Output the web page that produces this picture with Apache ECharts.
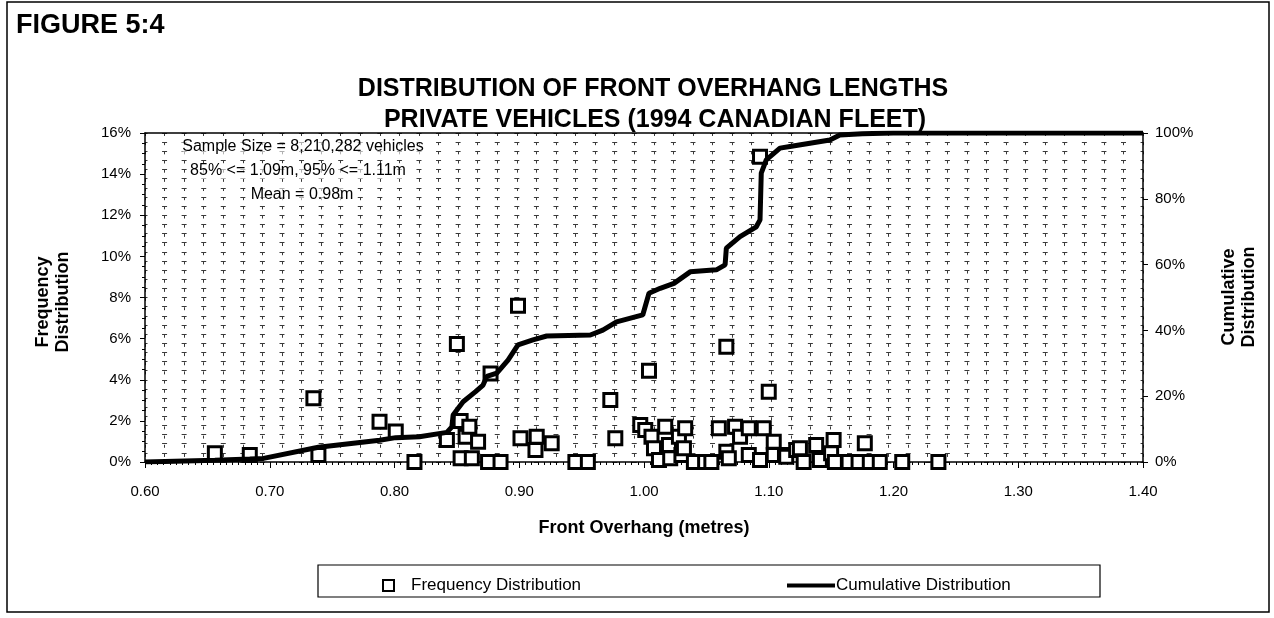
<!doctype html>
<html lang="en">
<head>
    <meta charset="UTF-8">
    <title>Figure 5.4</title>
    <style>
        html, body { margin: 0; padding: 0; background: #fff; }
        #main { width: 1274px; height: 618px; }
    </style>
    <script src="https://cdnjs.cloudflare.com/ajax/libs/echarts/6.0.0/echarts.min.js"></script>
</head>
<body>
    <div id="main"></div>
    <script>
        // frequency points: overhang (m) and share of fleet (%)
        var freqX = [0.656, 0.684, 0.735, 0.739, 0.788, 0.801, 0.816, 0.842, 0.850, 0.853,
            0.853, 0.857, 0.860, 0.862, 0.867, 0.875, 0.877, 0.885, 0.899, 0.901,
            0.913, 0.914, 0.926, 0.945, 0.955, 0.973, 0.977, 0.997, 1.001, 1.004,
            1.006, 1.008, 1.012, 1.017, 1.020, 1.021, 1.028, 1.030, 1.032, 1.033,
            1.040, 1.049, 1.054, 1.060, 1.066, 1.066, 1.068, 1.073, 1.077, 1.084,
            1.084, 1.093, 1.093, 1.096, 1.100, 1.104, 1.104, 1.113, 1.114, 1.122,
            1.125, 1.128, 1.138, 1.141, 1.150, 1.152, 1.153, 1.164, 1.172, 1.177,
            1.181, 1.189, 1.207, 1.236];
        var freqY = [0.42, 0.34, 3.10, 0.34, 1.96, 1.48, 0.00, 1.07, 5.74, 2.00,
            0.18, 1.23, 1.72, 0.18, 0.99, 0.00, 4.31, 0.00, 7.60, 1.15,
            0.58, 1.23, 0.91, 0.00, 0.00, 3.02, 1.15, 1.80, 1.56, 4.44,
            1.23, 0.67, 0.10, 1.72, 0.83, 0.18, 1.23, 0.34, 0.67, 1.64,
            0.00, 0.00, 0.00, 1.64, 5.61, 0.50, 0.18, 1.72, 1.23, 1.64,
            0.34, 14.85, 0.10, 1.64, 3.42, 0.99, 0.34, 0.34, 0.26, 0.58,
            0.67, 0.00, 0.83, 0.10, 0.42, 1.07, 0.00, 0.00, 0.00, 0.91,
            0.00, 0.00, 0.00, 0.00];

        // cumulative curve (%)
        var cumX = [0.600, 0.656, 0.684, 0.695, 0.735, 0.739, 0.788, 0.801, 0.820, 0.842,
            0.846, 0.847, 0.850, 0.855, 0.865, 0.871, 0.874, 0.882, 0.891, 0.899,
            0.911, 0.922, 0.957, 0.967, 0.978, 0.999, 1.004, 1.013, 1.024, 1.037,
            1.058, 1.065, 1.066, 1.077, 1.090, 1.093, 1.094, 1.098, 1.109, 1.117,
            1.149, 1.157, 1.175, 1.200, 1.400];
        var cumY = [0.0, 0.5, 0.9, 1.1, 4.2, 4.5, 6.6, 7.4, 7.7, 9.0,
            10.7, 14.3, 15.8, 18.3, 21.4, 23.4, 26.0, 27.0, 31.0, 35.6,
            37.1, 38.3, 38.6, 40.1, 42.6, 44.7, 51.3, 52.8, 54.3, 57.8,
            58.4, 59.9, 65.0, 68.5, 71.5, 73.6, 87.8, 91.8, 95.4, 95.9,
            97.9, 99.4, 99.8, 100, 100];

        var notes = ['Sample Size = 8,210,282 vehicles', '85% <= 1.09m, 95% <= 1.11m', 'Mean = 0.98m'];

        window.onload = function () {
            var myChart = echarts.init(document.getElementById('main'));
            var font = 'Liberation Sans, Arial, sans-serif';

            var freqData = freqX.map(function (x, i) { return [x, freqY[i]]; });
            var cumData = cumX.map(function (x, i) { return [x, cumY[i]]; });

            var gridColor = '#3a3a3a';

            var option = {
                animation: false,
                backgroundColor: '#fff',
                textStyle: { fontFamily: font, color: '#000' },
                grid: { left: 145, right: 131, top: 133, bottom: 156 },
                legend: [
                    {
                        data: ['Frequency Distribution'],
                        left: 377, top: 572,
                        icon: 'rect', itemWidth: 11, itemHeight: 11,
                        textStyle: { fontSize: 17, color: '#000', padding: [0, 0, 0, 12] }
                    },
                    {
                        data: ['Cumulative Distribution'],
                        left: 782, top: 572,
                        icon: 'rect', itemWidth: 48, itemHeight: 4,
                        itemStyle: { color: '#000', borderWidth: 0 },
                        textStyle: { fontSize: 17, color: '#000', padding: [0, 0, 0, -4] }
                    }
                ],
                xAxis: [
                    {
                        type: 'value', min: 0.6, max: 1.4, interval: 0.1, position: 'bottom',
                        axisLine: { onZero: false, lineStyle: { color: '#000', width: 1.5 } },
                        axisTick: { length: 6, lineStyle: { color: '#000' } },
                        minorTick: { show: true, splitNumber: 20, length: 3, lineStyle: { color: '#000' } },
                        axisLabel: { fontSize: 15, color: '#000', margin: 22, formatter: function (v) { return v.toFixed(2); } },
                        splitLine: { show: false },
                        name: 'Front Overhang (metres)', nameLocation: 'middle', nameGap: 57,
                        nameTextStyle: { fontSize: 18, fontWeight: 'bold', color: '#000' }
                    },
                    {
                        // background dotted grid, columns
                        type: 'value', min: 0, max: 51, interval: 1, position: 'top',
                        axisLine: { show: true, onZero: false, lineStyle: { color: '#000', width: 1.5 } },
                        axisTick: { show: false }, axisLabel: { show: false },
                        splitLine: { show: true, lineStyle: { color: gridColor, width: 1, type: [3, 6.17] } }
                    }
                ],
                yAxis: [
                    {
                        type: 'value', min: 0, max: 16, interval: 2, position: 'left',
                        axisLine: { show: true, onZero: false, lineStyle: { color: '#000', width: 1.5 } },
                        axisTick: { show: true, length: 5, lineStyle: { color: '#000' } },
                        minorTick: { show: true, splitNumber: 4, length: 3, lineStyle: { color: '#000' } },
                        axisLabel: { fontSize: 15, color: '#000', margin: 14, formatter: '{value}%' },
                        splitLine: { show: false }
                    },
                    {
                        type: 'value', min: 0, max: 100, interval: 20, position: 'right',
                        axisLine: { show: true, onZero: false, lineStyle: { color: '#000', width: 1.5 } },
                        axisTick: { show: true, length: 5, lineStyle: { color: '#000' } },
                        axisLabel: { fontSize: 15, color: '#000', margin: 12, formatter: '{value}%' },
                        splitLine: { show: false }
                    },
                    {
                        // background dotted grid, rows
                        type: 'value', min: 0, max: 36, interval: 1, position: 'left',
                        axisLine: { show: false }, axisTick: { show: false }, axisLabel: { show: false },
                        splitLine: { show: true, lineStyle: { color: gridColor, width: 1, type: [5, 14.57], dashOffset: 2.5 } }
                    }
                ],
                graphic: [
                    { type: 'rect', shape: { x: 7, y: 2, width: 1262, height: 610 }, style: { fill: 'none', stroke: '#000', lineWidth: 1.5 }, silent: true },
                    { type: 'rect', shape: { x: 318, y: 565, width: 782, height: 32 }, style: { fill: 'none', stroke: '#000', lineWidth: 1.2 }, silent: true },
                    { type: 'text', x: 16, y: 26, style: { text: 'FIGURE 5:4', font: 'bold 27px ' + font, fill: '#000', textVerticalAlign: 'middle' } },
                    { type: 'text', x: 653, y: 89, style: { text: 'DISTRIBUTION OF FRONT OVERHANG LENGTHS', font: 'bold 25px ' + font, fill: '#000', textAlign: 'center', textVerticalAlign: 'middle' } },
                    { type: 'text', x: 655, y: 120, style: { text: 'PRIVATE VEHICLES (1994 CANADIAN FLEET)', font: 'bold 25px ' + font, fill: '#000', textAlign: 'center', textVerticalAlign: 'middle' } },
                    { type: 'text', x: 53, y: 302, rotation: Math.PI / 2, style: { text: 'Frequency\nDistribution', font: 'bold 18px ' + font, fill: '#000', textAlign: 'center', textVerticalAlign: 'middle', lineHeight: 20 } },
                    { type: 'text', x: 1239, y: 297, rotation: Math.PI / 2, style: { text: 'Cumulative\nDistribution', font: 'bold 18px ' + font, fill: '#000', textAlign: 'center', textVerticalAlign: 'middle', lineHeight: 20 } },
                    { type: 'text', x: 303, y: 147, z: 10, style: { text: notes[0], font: '16px ' + font, fill: '#000', textAlign: 'center', textVerticalAlign: 'middle', backgroundColor: 'rgba(255,255,255,0.6)' } },
                    { type: 'text', x: 298, y: 171, z: 10, style: { text: notes[1], font: '16px ' + font, fill: '#000', textAlign: 'center', textVerticalAlign: 'middle', backgroundColor: 'rgba(255,255,255,0.6)' } },
                    { type: 'text', x: 302, y: 195, z: 10, style: { text: notes[2], font: '16px ' + font, fill: '#000', textAlign: 'center', textVerticalAlign: 'middle', backgroundColor: 'rgba(255,255,255,0.6)' } }
                ],
                series: [
                    {
                        name: 'Frequency Distribution',
                        type: 'scatter',
                        xAxisIndex: 0, yAxisIndex: 0,
                        symbol: 'rect', symbolSize: 13,
                        itemStyle: { color: '#fff', borderColor: '#000', borderWidth: 3, opacity: 1 },
                        data: freqData,
                        z: 3
                    },
                    {
                        name: 'Cumulative Distribution',
                        type: 'line',
                        xAxisIndex: 0, yAxisIndex: 1,
                        showSymbol: false, symbol: 'none',
                        lineStyle: { color: '#000', width: 5 },
                        itemStyle: { color: '#000' },
                        data: cumData,
                        z: 4
                    }
                ]
            };
            myChart.setOption(option);
        };
    </script>
</body>
</html>
